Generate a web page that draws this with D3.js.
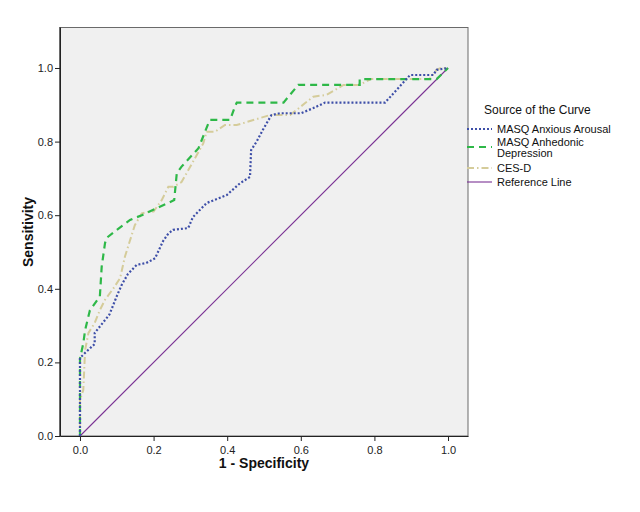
<!DOCTYPE html>
<html><head><meta charset="utf-8">
<script src="https://cdn.jsdelivr.net/npm/d3@7"></script>
<style>body{margin:0;background:#fff;}svg{display:block;font-family:"Liberation Sans",Arial,sans-serif;}</style>
</head><body><svg id="c" width="640" height="512"></svg>
<script>
const ticks = [0, 0.2, 0.4, 0.6, 0.8, 1.0];
const seriesNames = ["MASQ Anxious Arousal", "MASQ Anhedonic Depression", "CES-D", "Reference Line"];

const anxiousX = [0,0,0.014,0.04,0.04,0.08,0.1,0.113,0.13,0.154,0.18,0.204,0.226,0.24,0.253,0.294,0.307,0.344,0.399,0.435,0.462,0.465,0.48,0.497,0.52,0.543,0.6,0.634,0.666,0.829,0.897,0.96,0.969,1];
const anxiousY = [0,0.212,0.226,0.25,0.28,0.33,0.38,0.41,0.44,0.465,0.47,0.483,0.53,0.55,0.56,0.565,0.595,0.633,0.655,0.687,0.704,0.777,0.80,0.832,0.872,0.877,0.877,0.891,0.906,0.906,0.981,0.981,0.995,1];

const anhedonicX = [0,0,0.009,0.014,0.027,0.054,0.059,0.068,0.072,0.1,0.136,0.168,0.217,0.256,0.263,0.276,0.322,0.349,0.353,0.408,0.421,0.426,0.553,0.593,0.76,0.76,0.969,1];
const anhedonicY = [0,0.21,0.252,0.288,0.342,0.379,0.46,0.524,0.538,0.56,0.587,0.60,0.623,0.641,0.714,0.732,0.782,0.85,0.859,0.859,0.895,0.906,0.906,0.954,0.954,0.97,0.97,1];

const cesdX = [0,0,0.009,0.014,0.023,0.04,0.054,0.068,0.09,0.109,0.122,0.149,0.168,0.19,0.2,0.222,0.24,0.253,0.276,0.335,0.344,0.367,0.394,0.426,0.516,0.571,0.611,0.634,0.67,0.693,0.716,0.76,0.79,0.95,0.969,0.98,1];
const cesdY = [0,0.098,0.125,0.234,0.28,0.307,0.342,0.37,0.40,0.429,0.487,0.573,0.605,0.61,0.61,0.641,0.677,0.677,0.69,0.795,0.827,0.827,0.845,0.845,0.872,0.872,0.904,0.922,0.927,0.94,0.954,0.954,0.97,0.97,0.995,1.0,1.0];

const refX = [0, 1];
const refY = [0, 1];

const svg = d3.select("#c");
const x = d3.scaleLinear().domain([-0.0543, 1.0543]).range([60, 468]);
const y = d3.scaleLinear().domain([0, 1.1114]).range([436, 27]);

svg.append("rect").attr("x", 59.5).attr("y", 27.5).attr("width", 408.5).attr("height", 408.5)
  .attr("fill", "#f0f0f0").attr("stroke", "#6a6a6a").attr("stroke-width", 1);

const fmt = d3.format(".1f");
const gx = svg.append("g").attr("transform", "translate(0,436)")
  .call(d3.axisBottom(x).tickValues(ticks).tickFormat(fmt).tickSizeInner(5).tickSizeOuter(0).tickPadding(5));
const gy = svg.append("g").attr("transform", "translate(60,0)")
  .call(d3.axisLeft(y).tickValues(ticks).tickFormat(fmt).tickSizeInner(5).tickSizeOuter(0).tickPadding(2));
[gx, gy].forEach(g => {
  g.select(".domain").attr("stroke", "#222");
  g.selectAll(".tick line").attr("stroke", "#222");
  g.selectAll(".tick text").attr("fill", "#222").style("font-size", "11px").style("font-family", "'Liberation Sans',Arial,sans-serif");
});

const series = [
  {xs: refX, ys: refY, color: "#7b3294", width: 1.1, dash: null},
  {xs: cesdX, ys: cesdY, color: "#d5cc9a", width: 2, dash: "7,3,1.5,3"},
  {xs: anhedonicX, ys: anhedonicY, color: "#2eb848", width: 2.2, dash: "7,5"},
  {xs: anxiousX, ys: anxiousY, color: "#3e4fa8", width: 2.2, dash: "2,2"}
];
const line = d3.line().x(d => x(d[0])).y(d => y(d[1]));
series.forEach(s => {
  svg.append("path").datum(s.xs.map((v, i) => [v, s.ys[i]]))
    .attr("d", line).attr("fill", "none").attr("stroke", s.color)
    .attr("stroke-width", s.width).attr("stroke-dasharray", s.dash);
});

svg.append("text").attr("x", 264).attr("y", 468).attr("text-anchor", "middle")
  .style("font-size", "14px").style("font-weight", "bold").attr("fill", "#111").text("1 - Specificity");
svg.append("text").attr("transform", "translate(33,232) rotate(-90)").attr("text-anchor", "middle")
  .style("font-size", "14px").style("font-weight", "bold").attr("fill", "#111").text("Sensitivity");

// Legend
const lg = svg.append("g");
lg.append("text").attr("x", 484).attr("y", 114).style("font-size", "12px").attr("fill", "#111").text("Source of the Curve");
const legendItems = [
  {label: [seriesNames[0]], ly: 129, color: "#3e4fa8", width: 2.2, dash: "2,2"},
  {label: ["MASQ Anhedonic", "Depression"], ly: 147, color: "#2eb848", width: 2.2, dash: "7,5"},
  {label: [seriesNames[2]], ly: 168, color: "#d5cc9a", width: 2, dash: "7,3,1.5,3"},
  {label: [seriesNames[3]], ly: 182, color: "#7b3294", width: 1.1, dash: null}
];
legendItems.forEach(it => {
  lg.append("line").attr("x1", 467).attr("x2", 492).attr("y1", it.ly).attr("y2", it.ly)
    .attr("stroke", it.color).attr("stroke-width", it.width).attr("stroke-dasharray", it.dash);
  if (it.label.length === 1) {
    lg.append("text").attr("x", 497).attr("y", it.ly + 4).style("font-size", "11px").attr("fill", "#111").text(it.label[0]);
  } else {
    lg.append("text").attr("x", 497).attr("y", it.ly - 1).style("font-size", "11px").attr("fill", "#111").text(it.label[0]);
    lg.append("text").attr("x", 497).attr("y", it.ly + 10).style("font-size", "11px").attr("fill", "#111").text(it.label[1]);
  }
});
</script></body></html>
